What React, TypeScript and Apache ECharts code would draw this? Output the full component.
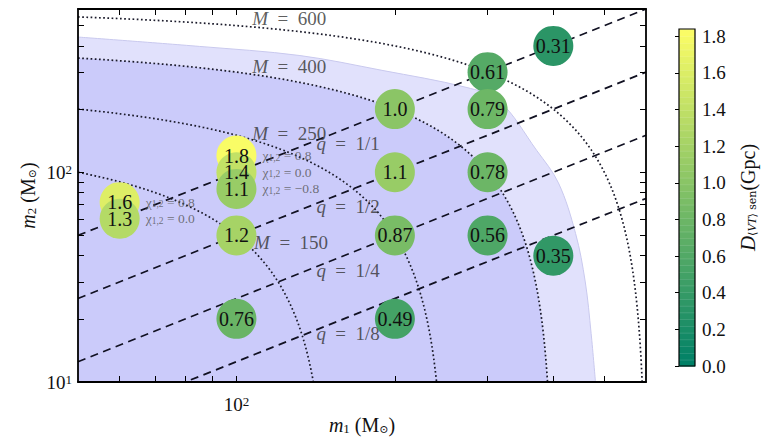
import React, { useEffect, useRef } from "react";
import * as echarts from "echarts";

// ---------------- data ----------------
// simulated points: primary mass, secondary mass (Msun) and sensitive distance (Gpc)
const pointM1 = [60, 60, 100, 100, 100, 100, 100, 200, 200, 200, 200, 300, 300, 300, 300, 400, 400];
const pointM2 = [72, 60, 120, 100, 83.3, 50, 20, 200, 100, 50, 20, 300, 200, 100, 50, 400, 40];
const sensDist = [1.6, 1.3, 1.8, 1.4, 1.1, 1.2, 0.76, 1.0, 1.1, 0.87, 0.49, 0.61, 0.79, 0.78, 0.56, 0.31, 0.35];

// spin annotations next to the displaced points
const spinM1 = [60, 60, 100, 100, 100];
const spinM2 = [72, 60, 120, 100, 83.3];
const spinChi = ["0.8", "0.0", "0.8", "0.0", "\u22120.8"];

// constant total mass curves and constant mass ratio lines
const totalMasses = [150, 250, 400, 600];
const massRatios = [1, 1 / 2, 1 / 4, 1 / 8];
const massRatioLabels = ["1/1", "1/2", "1/4", "1/8"];

// annotation anchor points (m1, m2)
const totalMassLabelM1 = [127, 126, 126, 126];
const totalMassLabelM2 = [46.4, 153, 320, 541];
const ratioLabelM1 = [163, 163, 163, 163];
const ratioLabelM2 = [136.6, 69, 34.1, 17];

// outer (light) shaded region boundary
const lightM1 = [50, 85, 132, 189, 273, 315, 372, 409, 441, 460, 472, 481];
const lightM2 = [441, 398, 360, 306, 254, 220, 127, 89, 51, 30, 17, 10];
// inner (dark) shaded region: total mass below this value
const darkTotalMass = 400;

// axes
const m1Range = [50, 600];
const m2Range = [10, 600];
const m1Ticks = [60, 70, 80, 90, 100, 200, 300, 400, 500];
const m2Ticks = [20, 30, 40, 50, 60, 70, 80, 90, 100, 200, 300, 400, 500];
const m1LabelTicks = [100];
const m2LabelTicks = [10, 100];
const colorRange = [0, 1.84];
const colorbarTicks = [0, 0.2, 0.4, 0.6, 0.8, 1.0, 1.2, 1.4, 1.6, 1.8];
const colorbarSteps = 50;
const summerColors = ["#008066", "#ffff66"];

const SERIF = "'Liberation Serif', 'DejaVu Serif', serif";
const lg = (v: number) => Math.log10(v);

function totalMassCurve(M: number) {
  const pts: number[][] = [];
  const half = M / 2;
  const n = 60;
  const m1Min = m1Range[0];
  const m2Min = m2Range[0];
  for (let i = 0; i <= n; i++) {
    const a = m1Min * Math.pow(half / m1Min, i / n);
    pts.push([lg(a), lg(M - a)]);
  }
  for (let i = 1; i <= n; i++) {
    const b = half * Math.pow(m2Min / half, i / n);
    pts.push([lg(M - b), lg(b)]);
  }
  return pts;
}

const powRich = {
  b: { fontFamily: SERIF, fontSize: 19, color: "#111" },
  s: { fontFamily: SERIF, fontSize: 13, color: "#111", verticalAlign: "top" as const },
};
const powFormatter = (v: number) => `{b|10}{s|${Math.round(v)}}`;

const nameRich = {
  i: { fontFamily: SERIF, fontStyle: "italic", fontSize: 20, color: "#111" },
  r: { fontFamily: SERIF, fontSize: 20, color: "#111" },
  sub: { fontFamily: SERIF, fontSize: 13, color: "#111", verticalAlign: "bottom" },
  subs: { fontFamily: "'DejaVu Serif', serif", fontSize: 11, color: "#111", verticalAlign: "bottom" },
};

function makeXAxis(position: "bottom" | "top", withLabels: boolean, nameText?: string) {
  return {
    type: "value",
    gridIndex: 0,
    position,
    z: 10,
    min: lg(m1Range[0]),
    max: lg(m1Range[1]),
    axisLine: { show: true, onZero: false, lineStyle: { color: "#000", width: 1.8 } },
    axisTick: { show: true, inside: true, length: 6, customValues: m1Ticks.map(lg), lineStyle: { color: "#000", width: 1 } },
    axisLabel: {
      show: withLabels,
      customValues: m1LabelTicks.map(lg),
      formatter: powFormatter,
      rich: powRich,
      margin: 13,
    },
    splitLine: { show: false },
    name: nameText,
    nameLocation: "middle",
    nameGap: 33,
    nameMoveOverlap: false,
    nameTextStyle: { rich: nameRich },
  };
}

function makeYAxis(position: "left" | "right", withLabels: boolean, nameText?: string) {
  return {
    type: "value",
    gridIndex: 0,
    position,
    z: 10,
    min: lg(m2Range[0]),
    max: lg(m2Range[1]),
    axisLine: { show: true, onZero: false, lineStyle: { color: "#000", width: 1.8 } },
    axisTick: { show: true, inside: true, length: 6, customValues: m2Ticks.map(lg), lineStyle: { color: "#000", width: 1 } },
    axisLabel: {
      show: withLabels,
      customValues: m2LabelTicks.map(lg),
      formatter: powFormatter,
      rich: powRich,
      margin: 6,
    },
    splitLine: { show: false },
    name: nameText,
    nameLocation: "middle",
    nameRotate: 90,
    nameGap: 40,
    nameMoveOverlap: false,
    nameTextStyle: { rich: nameRich },
  };
}

const annotationRich = {
  i: { fontFamily: SERIF, fontStyle: "italic" as const, fontSize: 19, color: "#333" },
  r: { fontFamily: SERIF, fontSize: 19, color: "#333" },
};

function buildOption() {
  const series: any[] = [];

  series.push({
    type: "line",
    data: lightM1.map((v, i) => [lg(v), lg(lightM2[i])]),
    symbol: "none",
    smooth: 0.35,
    lineStyle: { color: "#c9c9ee", width: 1 },
    areaStyle: { color: "#e1e1fc", opacity: 1, origin: "start" },
    silent: true,
    z: 1,
  });
  series.push({
    type: "line",
    data: totalMassCurve(darkTotalMass),
    symbol: "none",
    lineStyle: { width: 0, color: "#cbcbfa" },
    areaStyle: { color: "#cbcbfa", opacity: 1, origin: "start" },
    silent: true,
    z: 1,
  });
  totalMasses.forEach((M) => {
    series.push({
      type: "line",
      data: totalMassCurve(M),
      symbol: "none",
      lineStyle: { color: "#1a1a2a", width: 1.7, type: [1.7, 2.5] },
      silent: true,
      z: 2,
    });
  });
  massRatios.forEach((q) => {
    series.push({
      type: "line",
      data: [
        [lg(m1Range[0]), lg(m1Range[0] * q)],
        [lg(m1Range[1]), lg(m1Range[1] * q)],
      ],
      symbol: "none",
      lineStyle: { color: "#111122", width: 1.7, type: [8, 5.5] },
      silent: true,
      z: 2,
    });
  });
  // total mass annotations
  series.push({
    type: "scatter",
    symbolSize: 0,
    silent: true,
    z: 3,
    data: totalMasses.map((M, i) => ({
      value: [lg(totalMassLabelM1[i]), lg(totalMassLabelM2[i])],
      label: { formatter: `{i|M}{r|\u2002=\u2002${M}}` },
    })),
    label: { show: true, position: "inside", rich: annotationRich },
  });
  // mass ratio annotations
  series.push({
    type: "scatter",
    symbolSize: 0,
    silent: true,
    z: 3,
    data: massRatioLabels.map((t, i) => ({
      value: [lg(ratioLabelM1[i]), lg(ratioLabelM2[i])],
      label: { formatter: `{i|q}{r|\u2002=\u2002${t}}` },
    })),
    label: { show: true, position: "inside", rich: annotationRich },
  });
  // data points
  const pointIndex = series.length;
  series.push({
    type: "scatter",
    symbol: "circle",
    symbolSize: 40,
    silent: true,
    z: 4,
    data: pointM1.map((v, i) => [lg(v), lg(pointM2[i]), sensDist[i]]),
    itemStyle: { opacity: 1 },
    label: {
      show: true,
      position: "inside",
      fontFamily: SERIF,
      fontSize: 20,
      color: "#111",
      formatter: (p: any) => {
        const d = p.value[2];
        return d >= 1 ? d.toFixed(1) : d.toFixed(2);
      },
    },
  });
  // spin annotations
  series.push({
    type: "scatter",
    symbolSize: 0,
    silent: true,
    z: 5,
    data: spinM1.map((v, i) => ({
      value: [lg(v), lg(spinM2[i])],
      label: { formatter: `{c|\u03c7}{s|1,2}{c| = ${spinChi[i]}}` },
    })),
    label: {
      show: true,
      position: "right",
      distance: 26,
      rich: {
        c: { fontFamily: SERIF, fontSize: 13.5, color: "#555" },
        s: { fontFamily: SERIF, fontSize: 9.5, color: "#555", verticalAlign: "bottom" },
      },
    },
  });
  // colorbar
  const step = (colorRange[1] - colorRange[0]) / colorbarSteps;
  const levels: number[][] = [];
  for (let i = 0; i < colorbarSteps; i++) levels.push([0.5, colorRange[0] + i * step]);
  const colorbarIndex = series.length;
  series.push({
    type: "custom",
    xAxisIndex: 2,
    yAxisIndex: 2,
    silent: true,
    z: 2,
    data: levels,
    encode: { x: 0, y: 1 },
    renderItem: (params: any, api: any) => {
      const v = api.value(1);
      const p0 = api.coord([0, v]);
      const p1 = api.coord([1, Math.min(v + step, colorRange[1])]);
      return {
        type: "group",
        children: [
          {
            type: "rect",
            shape: { x: p0[0], y: p1[1], width: p1[0] - p0[0], height: p0[1] - p1[1] + 0.6 },
            style: { fill: api.visual("color") },
          },
          {
            type: "line",
            shape: { x1: p0[0], y1: p1[1] + 0.5, x2: p1[0], y2: p1[1] + 0.5 },
            style: { stroke: "rgba(255,255,255,0.22)", lineWidth: 1.2 },
          },
        ],
      };
    },
  });

  return {
    animation: false,
    backgroundColor: "#ffffff",
    grid: [
      { left: 78, top: 9, width: 568, height: 373, outerBoundsMode: "none", containLabel: false },
      {
        left: 679,
        top: 29,
        width: 16,
        height: 337,
        outerBoundsMode: "none",
        containLabel: false,
        show: true,
        z: 10,
        borderColor: "#000",
        borderWidth: 1.2,
        backgroundColor: "transparent",
      },
    ],
    xAxis: [
      makeXAxis("bottom", true, "{i|m}{sub|1}{r| (M}{subs|\u2299}{r|)}"),
      makeXAxis("top", false),
      { type: "value", gridIndex: 1, min: 0, max: 1, show: false },
    ],
    yAxis: [
      makeYAxis("left", true, "{i|m}{sub|2}{r| (M}{subs|\u2299}{r|)}"),
      makeYAxis("right", false),
      {
        type: "value",
        gridIndex: 1,
        position: "right",
        z: 10,
        min: colorRange[0],
        max: colorRange[1],
        axisLine: { show: false },
        splitLine: { show: false },
        axisTick: { show: true, inside: true, length: 4, customValues: colorbarTicks, lineStyle: { color: "#000", width: 1 } },
        axisLabel: {
          customValues: colorbarTicks,
          formatter: (v: number) => v.toFixed(1),
          fontFamily: SERIF,
          fontSize: 19,
          color: "#111",
          margin: 7,
        },
        name: "{d|D}{s|\u27e8}{si|VT}{s|\u27e9 sen}{r|(Gpc)}",
        nameLocation: "middle",
        nameRotate: 90,
        nameGap: 42,
        nameMoveOverlap: false,
        nameTextStyle: {
          rich: {
            d: { fontFamily: SERIF, fontStyle: "italic", fontSize: 21, color: "#111" },
            s: { fontFamily: "'DejaVu Serif', serif", fontSize: 11, color: "#111", verticalAlign: "bottom" },
            si: { fontFamily: SERIF, fontStyle: "italic", fontSize: 12, color: "#111", verticalAlign: "bottom" },
            r: { fontFamily: SERIF, fontSize: 20, color: "#111" },
          },
        },
      },
    ],
    visualMap: [
      {
        type: "continuous",
        show: false,
        min: colorRange[0],
        max: colorRange[1],
        dimension: 2,
        seriesIndex: [pointIndex],
        inRange: { color: summerColors },
      },
      {
        type: "continuous",
        show: false,
        min: colorRange[0],
        max: colorRange[1],
        dimension: 1,
        seriesIndex: [colorbarIndex],
        inRange: { color: summerColors },
      },
    ],
    series,
  };
}

export default function App() {
  const ref = useRef<HTMLDivElement | null>(null);
  useEffect(() => {
    if (!ref.current) return;
    const chart = echarts.init(ref.current, undefined, { renderer: "svg" });
    chart.setOption(buildOption() as any);
    return () => chart.dispose();
  }, []);
  return (
    <div
      ref={ref}
      style={{ position: "absolute", left: 0, top: 0, width: 767, height: 437, background: "#fff" }}
    />
  );
}
